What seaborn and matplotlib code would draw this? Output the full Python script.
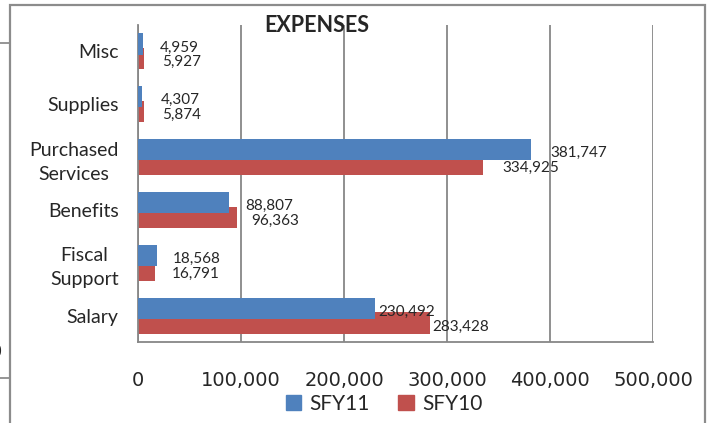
import pandas as pd
import seaborn as sns
import matplotlib.pyplot as plt
from matplotlib.lines import Line2D
from matplotlib.patches import Rectangle

categories = ['Misc', 'Supplies', 'Purchased\nServices', 'Benefits', 'Fiscal\nSupport', 'Salary']
series = ['SFY11', 'SFY10']
sfy11 = [4959, 4307, 381747, 88807, 18568, 230492]
sfy10 = [5927, 5874, 334925, 96363, 16791, 283428]
x_ticks = [0, 100000, 200000, 300000, 400000, 500000]

df = pd.DataFrame({
    'Category': categories * 2,
    'Series': [series[0]] * len(categories) + [series[1]] * len(categories),
    'Value': sfy11 + sfy10,
})

colors = ['#4F81BD', '#C0504D']
grid_gray = '#878787'

sns.set_style('white')
body_font = ['Lato', 'DejaVu Sans']

W, H = 712, 423
fig = plt.figure(figsize=(W / 100, H / 100), dpi=100)
ax = fig.add_axes([138 / W, 1 - 342 / H, (653 - 138) / W, (342 - 25) / H])

sns.barplot(data=df, y='Category', x='Value', hue='Series', order=categories,
            hue_order=series, palette=colors, width=0.56, saturation=1,
            linewidth=0, legend=False, ax=ax)

# Excel style overlap: taller bars, blue drawn over red
label_pad = {0: [17, 18, 19, 16, 16, 3], 1: [18, 18, 19, 14, 16, 2]}
for i, cont in enumerate(ax.containers[:2]):
    vals = sfy11 if i == 0 else sfy10
    for j, p in enumerate(cont.patches):
        c = p.get_y() + p.get_height() / 2
        p.set_y(c - 0.2)
        p.set_height(0.4)
        p.set_zorder(3 if i == 0 else 2)
        ax.annotate(f'{vals[j]:,}', xy=(vals[j], c), xytext=(label_pad[i][j] * 0.72, -2.5),
                    textcoords='offset points', ha='left', va='center',
                    fontsize=11, family=body_font, zorder=5)

ax.set_xlim(0, 500000)
ax.set_ylim(len(categories) - 0.5, -0.5)
ax.set_xticks(x_ticks)
ax.set_xticklabels([f'{t:,}' for t in x_ticks], fontsize=14, family='DejaVu Sans')
for lab in ax.get_yticklabels():
    lab.set_family(body_font)
    lab.set_fontsize(14)
    lab.set_multialignment('center')
    lab.set_linespacing(1.5)
ax.tick_params(axis='x', length=0, pad=21)
ax.tick_params(axis='y', length=0, pad=14)
ax.set_xlabel('')
ax.set_ylabel('')
ax.xaxis.grid(True, color=grid_gray, linewidth=1.3)
ax.set_axisbelow(True)
for s in ['top', 'right']:
    ax.spines[s].set_visible(False)
for s in ['left', 'bottom']:
    ax.spines[s].set_color(grid_gray)
    ax.spines[s].set_linewidth(1.3)

fig.text(317 / W, 1 - 26 / H, 'EXPENSES', ha='center', va='center',
         fontsize=15.5, fontweight='bold', family=body_font)

handles = [Rectangle((0, 0), 1, 1, color=c) for c in colors]
fig.legend(handles, series, loc='center', bbox_to_anchor=(384 / W, 1 - 404 / H),
           ncol=2, frameon=False, handlelength=0.75, handleheight=0.75,
           handletextpad=0.4, columnspacing=1.35,
           prop={'family': body_font, 'size': 15})

# chart border and bits of the neighbouring chart
fig.add_artist(Rectangle((10 / W, -0.1), (705 - 10) / W, 1.1 - 5 / H,
                         transform=fig.transFigure, fill=False,
                         edgecolor='#8c8c8c', linewidth=1.6))
fig.add_artist(Line2D([0, 10 / W], [1 - 43 / H] * 2, color='#8c8c8c', linewidth=1.3))
fig.add_artist(Line2D([0, 10 / W], [1 - 378 / H] * 2, color='#8c8c8c', linewidth=1.3))
fig.text(-3 / W, 1 - 352 / H, '0', ha='center', va='center', fontsize=13)

fig.savefig('out.png', dpi=100)
